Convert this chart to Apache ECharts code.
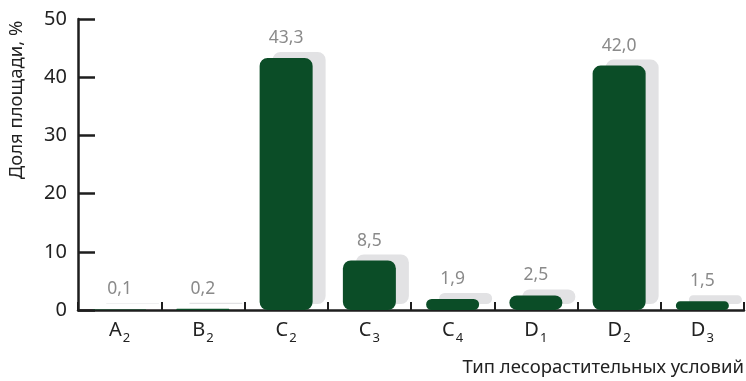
<!DOCTYPE html>
<html>
<head>
<meta charset="utf-8">
<script src="https://cdn.jsdelivr.net/npm/echarts@6/dist/echarts.min.js"></script>
<style>
  html, body { margin: 0; padding: 0; background: #fff; }
  #chart { width: 746px; height: 381px; }
</style>
</head>
<body>
<div id="chart"></div>
<script>
// Forest site types: letter + subscript index
const typeLetters = ['A', 'B', 'C', 'C', 'C', 'D', 'D', 'D'];
const typeIndexes = ['2', '2', '2', '3', '4', '1', '2', '3'];
// Share of area, %
const shareValues = [0.1, 0.2, 43.3, 8.5, 1.9, 2.5, 42.0, 1.5];
const yTicks = [0, 10, 20, 30, 40, 50];

const FONT = '"Noto Sans", "Open Sans", sans-serif';
const categories = typeLetters.map((l, i) => l + '|' + typeIndexes[i]);

const chart = echarts.init(document.getElementById('chart'), null, { renderer: 'canvas' });

chart.setOption({
  animation: false,
  grid: { left: 78, right: 2, top: 19, bottom: 71, containLabel: false },
  xAxis: {
    type: 'category',
    data: categories,
    axisLine: { show: true, lineStyle: { color: '#1e1e1e', width: 2.5 } },
    axisTick: { show: true, inside: true, length: 8, lineStyle: { color: '#1e1e1e', width: 2 } },
    axisLabel: {
      margin: 4,
      formatter: v => {
        const [l, s] = v.split('|');
        return '{m|' + l + '}{s|' + s + '}';
      },
      rich: {
        m: { fontFamily: FONT, fontSize: 20, color: '#222', lineHeight: 26, verticalAlign: 'bottom' },
        s: { fontFamily: FONT, fontSize: 13, color: '#222', lineHeight: 26, verticalAlign: 'bottom', padding: [0, 0, -5, 1] }
      }
    }
  },
  yAxis: {
    type: 'value',
    min: yTicks[0],
    max: yTicks[yTicks.length - 1],
    interval: 10,
    splitLine: { show: false },
    axisLine: { show: true, lineStyle: { color: '#1e1e1e', width: 2.5 } },
    axisTick: { show: true, inside: true, length: 17, lineStyle: { color: '#1e1e1e', width: 2.5 } },
    axisLabel: { fontFamily: FONT, fontSize: 20, color: '#222', margin: 11 }
  },
  series: [{
    type: 'bar',
    data: shareValues,
    barWidth: 53,
    itemStyle: {
      color: '#0b4d27',
      borderRadius: 8,
      shadowColor: '#e2e2e4',
      shadowBlur: 0,
      shadowOffsetX: 13,
      shadowOffsetY: -6
    },
    label: {
      show: true,
      position: 'top',
      distance: 11,
      fontFamily: FONT,
      fontSize: 17.5,
      color: '#8a8a8a',
      formatter: p => p.value.toFixed(1).replace('.', ',')
    }
  }],
  graphic: [
    {
      type: 'text',
      x: 17, y: 100,
      rotation: Math.PI / 2,
      style: {
        text: 'Доля площади, %',
        fontFamily: FONT, fontSize: 18.5, fill: '#222',
        align: 'center', verticalAlign: 'middle'
      }
    },
    {
      type: 'text',
      x: 744, y: 368,
      style: {
        text: 'Тип лесорастительных условий',
        fontFamily: FONT, fontSize: 18.5, fill: '#222',
        align: 'right', verticalAlign: 'middle'
      }
    }
  ]
});
</script>
</body>
</html>
